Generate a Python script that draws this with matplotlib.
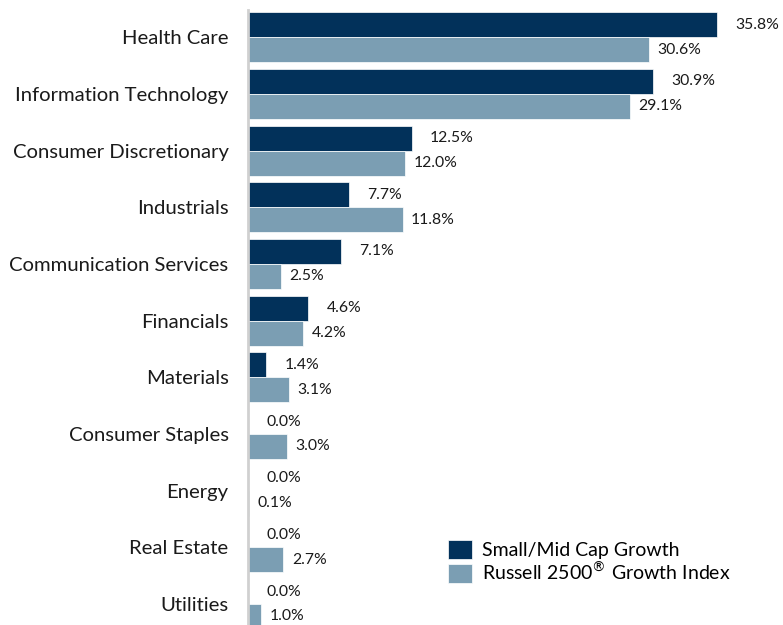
import matplotlib.pyplot as plt
import numpy as np

plt.rcParams['font.family'] = ['Lato', 'DejaVu Sans']

sectors = ['Health Care', 'Information Technology', 'Consumer Discretionary',
           'Industrials', 'Communication Services', 'Financials', 'Materials',
           'Consumer Staples', 'Energy', 'Real Estate', 'Utilities']
fund = [35.8, 30.9, 12.5, 7.7, 7.1, 4.6, 1.4, 0.0, 0.0, 0.0, 0.0]
index = [30.6, 29.1, 12.0, 11.8, 2.5, 4.2, 3.1, 3.0, 0.1, 2.7, 1.0]
series_names = ['Small/Mid Cap Growth', r'Russell 2500$^{\circledR}$ Growth Index']

DARK = '#02315a'
LIGHT = '#7b9eb3'


def main():
    fig = plt.figure(figsize=(7.83, 6.25), dpi=100)
    ax = fig.add_axes([248 / 783, 0.0, 1 - 248 / 783, 1 - 10 / 625])

    y = np.arange(len(sectors))
    h = 0.44
    ax.barh(y - h / 2, fund, height=h, color=DARK, label=series_names[0],
            edgecolor='white', linewidth=0.5)
    ax.barh(y + h / 2, index, height=h, color=LIGHT, label=series_names[1],
            edgecolor='white', linewidth=0.5)

    for yi, v in zip(y, fund):
        ax.annotate(f'{v:.1f}%', (v, yi - h / 2), xytext=(13, 0),
                    textcoords='offset points', va='center', ha='left',
                    fontsize=11.3, color='#1a1a1a')
    for yi, v in zip(y, index):
        ax.annotate(f'{v:.1f}%', (v, yi + h / 2), xytext=(6, 0),
                    textcoords='offset points', va='center', ha='left',
                    fontsize=11.3, color='#1a1a1a')

    ax.set_xlim(0, 40.8)
    ax.set_ylim(10.37, -0.48)
    ax.set_yticks(y)
    ax.set_yticklabels(sectors, fontsize=14.6, color='#1a1a1a')
    ax.tick_params(axis='y', length=0, pad=14)
    ax.set_xticks([])
    for s in ['top', 'right', 'bottom']:
        ax.spines[s].set_visible(False)
    ax.spines['left'].set_color('#d0d0d0')
    ax.spines['left'].set_linewidth(2)

    ax.legend(loc='upper left', bbox_to_anchor=(430 / 783, 1 - 522 / 625),
              bbox_transform=fig.transFigure, frameon=False, fontsize=14,
              handlelength=1.25, handleheight=1.15, handletextpad=0.5,
              labelspacing=0.1)

    fig.savefig('out.png', dpi=100)


if __name__ == '__main__':
    main()
